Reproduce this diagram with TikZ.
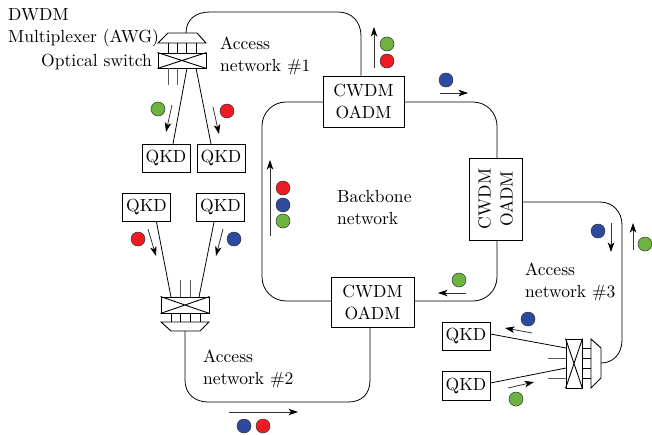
\documentclass[tikz,border=0pt]{standalone}
\usetikzlibrary{arrows.meta}
\definecolor{dgreen}{HTML}{6CB33F}
\definecolor{dred}{HTML}{ED1C24}
\definecolor{dblue}{HTML}{2E4A9E}
\font\lmten="[lmroman10-regular]:mapping=tex-text" at 17.55pt
\newcommand\txtfont{\lmten\baselineskip=22pt\relax}
\tikzset{
  x=1pt,y=-1pt,
  lbl/.style={font=\txtfont,inner sep=0pt,align=left},
  cw/.style={draw,fill=white,line width=.8pt,inner sep=0pt,font=\txtfont,align=center},
  qkd/.style={draw,fill=white,line width=.8pt,minimum width=48pt,minimum height=28.5pt,inner sep=0pt,font=\txtfont},
  fib/.style={line width=.8pt},
  stub/.style={line width=.9pt,black!65},
  flow/.style={line width=.8pt,black!80,-{Stealth[length=9.5pt,width=6.5pt,inset=2.5pt,black]}},
  dot/.style={circle,draw=black!80,line width=.5pt,minimum size=14pt,inner sep=0pt,fill=#1},
  sw/.style={line width=.9pt}
}
\begin{document}
\begin{tikzpicture}
\useasboundingbox (0,0) rectangle (652,434);
% Backbone ring
\draw[fib,rounded corners=24pt] (262,102) rectangle (497,301);
% CWDM nodes
\node[cw,minimum width=81pt,minimum height=51pt] (cwA) at (363.5,101.5) {CWDM\\OADM};
\node[cw,minimum width=53pt,minimum height=82pt] (cwB) at (495.5,199) {};
\node[lbl,rotate=90,align=center] (cwBt) at (495.5,199) {CWDM\\OADM};
\node[cw,minimum width=83pt,minimum height=50pt] (cwC) at (372.5,302) {CWDM\\OADM};
% QKD
\node[qkd] (q1) at (166,158.5) {QKD};
\node[qkd] (q2) at (221,158.5) {QKD};
\node[qkd] (q3) at (146.5,207.5) {QKD};
\node[qkd] (q4) at (220.5,207.5) {QKD};
\node[qkd] (q5) at (466,336.5) {QKD};
\node[qkd] (q6) at (466,386) {QKD};
% Switch 1 / mux 1
\coordinate (m1) at (186,33);
\node[draw,sw,minimum width=48pt,minimum height=15pt,inner sep=0pt] (s1) at (182,60.5) {};
\draw[sw] (s1.north west)--(s1.south east) (s1.north east)--(s1.south west);
\draw[sw] (168,33)--(197,33)--(206,43)--(158,43)--cycle;
\foreach \x in {168,177,186,196} \draw[sw] (\x,43)--(\x,53);
\foreach \x in {168,177} \draw[stub] (\x,68)--(\x,85);
\draw[fib] (187,68)--([xshift=7pt]q1.north);
\draw[fib] (196,68)--([xshift=-10pt]q2.north);
% Switch 2 / mux 2
\coordinate (m2) at (185,331);
\node[draw,sw,minimum width=48pt,minimum height=16pt,inner sep=0pt] (s2) at (185,305) {};
\draw[sw] (s2.north west)--(s2.south east) (s2.north east)--(s2.south west);
\draw[sw] (161,322)--(209,322)--(200,331)--(171,331)--cycle;
\foreach \x in {171,180,190,200} \draw[sw] (\x,313)--(\x,322);
\foreach \x in {180,190} \draw[stub] (\x,280)--(\x,297);
\draw[fib] ([xshift=10pt]q3.south)--(171,297);
\draw[fib] ([xshift=-6.5pt]q4.south)--(199,297);
% Switch 3 / mux 3
\coordinate (m3) at (601,363);
\node[draw,sw,minimum width=16pt,minimum height=49pt,inner sep=0pt] (s3) at (574,363.5) {};
\draw[sw] (s3.north west)--(s3.south east) (s3.north east)--(s3.south west);
\draw[sw] (591,339)--(601,348)--(601,378)--(591,388)--cycle;
\foreach \y in {348,358,368,378} \draw[sw] (582,\y)--(591,\y);
\foreach \y in {358,378} \draw[stub] (548,\y)--(566,\y);
\draw[fib] ([yshift=2.5pt]q5.east)--(566,348);
\draw[fib] ([yshift=3pt]q6.east)--(566,368);
% Access loops
\draw[fib] (m1) .. controls (186,20) and (195,12) .. (210,12) -- (338,12) .. controls (352,12) and (361,22) .. (361,36) -- (cwA.north -| 361,0);
\draw[fib] (m2) -- (185,380) .. controls (185,394) and (195,402) .. (208,402) -- (348,402) .. controls (362,402) and (370,394) .. (370,380) -- (cwC.south -| 370,0);
\draw[fib] (cwB.east |- 0,202) -- (600,202) .. controls (613,202) and (622,212) .. (622,225) -- (622,340) .. controls (622,354) and (613,363) .. (m3);
% Labels
\node[lbl,anchor=base west] (t1) at (8,20) {DWDM};
\node[lbl,anchor=base west] (t2) at (8,42) {Multiplexer (AWG)};
\node[lbl,anchor=base west] (t3) at (41,66) {Optical switch};
\node[lbl,anchor=west] (t4) at (220,56) {Access\\network \#1};
\node[lbl,anchor=west] (t5) at (337,208) {Backbone\\network};
\node[lbl,anchor=west] (t6) at (525,282) {Access\\network \#3};
\node[lbl,anchor=west] (t7) at (203,369) {Access\\network \#2};
% Flows
\coordinate (a1) at (374,68); \coordinate (a2) at (374,27);
\draw[flow] (a1)--(a2);
\node[dot=dgreen] (d1) at (387,44) {};
\node[dot=dred] (d2) at (387,61) {};
\coordinate (b1) at (440,93); \coordinate (b2) at (468,93);
\draw[flow] (b1)--(b2);
\node[dot=dblue] (d3) at (446,80) {};
\coordinate (c1) at (172,105); \coordinate (c2) at (166,132);
\draw[flow] (c1)--(c2);
\node[dot=dgreen] (d4) at (158,109) {};
\coordinate (e1) at (213,107); \coordinate (e2) at (219,134);
\draw[flow] (e1)--(e2);
\node[dot=dred] (d5) at (227,111) {};
\coordinate (f1) at (270,236); \coordinate (f2) at (270,160);
\draw[flow] (f1)--(f2);
\node[dot=dred] (d6) at (283,188) {};
\node[dot=dblue] (d7) at (283,205) {};
\node[dot=dgreen] (d8) at (283,221) {};
\coordinate (p1) at (611,223); \coordinate (p2) at (611,252);
\draw[flow] (p1)--(p2);
\node[dot=dblue] (d9) at (598,231) {};
\coordinate (g1) at (633,250); \coordinate (g2) at (633,223);
\draw[flow] (g1)--(g2);
\node[dot=dgreen] (d10) at (645,244) {};
\coordinate (h1) at (466,293); \coordinate (h2) at (438,293);
\draw[flow] (h1)--(h2);
\node[dot=dgreen] (d11) at (459,280) {};
\coordinate (i1) at (148,229); \coordinate (i2) at (156,256);
\draw[flow] (i1)--(i2);
\node[dot=dred] (d12) at (138,239) {};
\coordinate (j1) at (223,229); \coordinate (j2) at (216,256);
\draw[flow] (j1)--(j2);
\node[dot=dblue] (d13) at (234,239) {};
\coordinate (k1) at (229,412); \coordinate (k2) at (298,412);
\draw[flow] (k1)--(k2);
\node[dot=dblue] (d14) at (244,426) {};
\node[dot=dred] (d15) at (263,426) {};
\coordinate (l1) at (532,333); \coordinate (l2) at (505,328);
\draw[flow] (l1)--(l2);
\node[dot=dblue] (d16) at (528,319) {};
\coordinate (n1) at (508,388); \coordinate (n2) at (534,382);
\draw[flow] (n1)--(n2);
\node[dot=dgreen] (d17) at (516,399) {};
\end{tikzpicture}
\end{document}
